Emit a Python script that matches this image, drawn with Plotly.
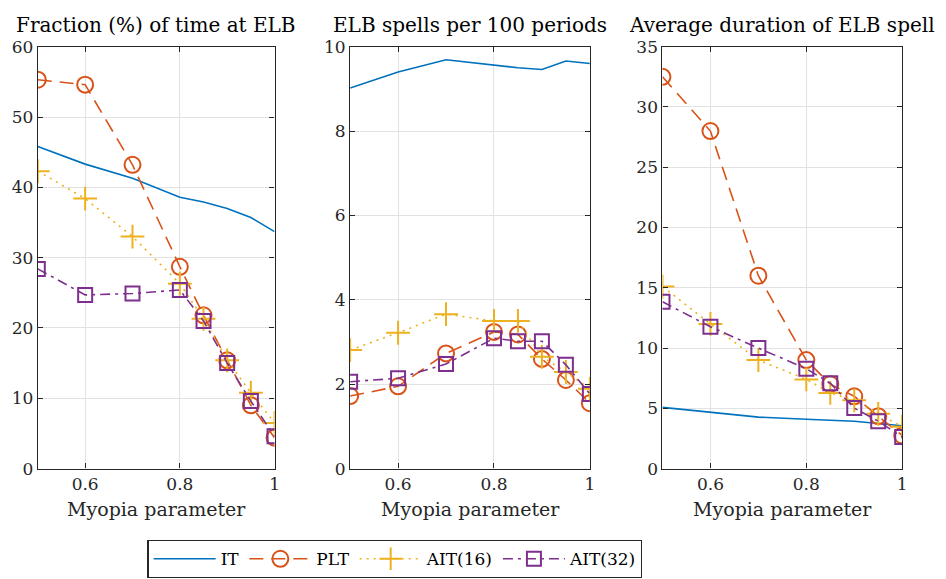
import plotly.graph_objects as go

# Myopia parameter grid
myopia = [0.5, 0.6, 0.7, 0.8, 0.85, 0.9, 0.95, 1.0]

# Fraction (%) of time at ELB
frac_it = [45.8, 43.3, 41.3, 38.6, 37.9, 37.0, 35.7, 33.7]
frac_plt = [55.3, 54.6, 43.2, 28.7, 21.8, 15.4, 9.0, 4.4]
frac_ait16 = [42.3, 38.4, 33.0, 26.3, 21.3, 15.4, 10.8, 6.5]
frac_ait32 = [28.4, 24.7, 24.9, 25.4, 21.0, 15.0, 9.6, 4.6]

# ELB spells per 100 periods
spells_it = [9.02, 9.40, 9.69, 9.56, 9.50, 9.46, 9.66, 9.60]
spells_plt = [1.72, 1.95, 2.73, 3.24, 3.18, 2.60, 2.10, 1.55]
spells_ait16 = [2.81, 3.22, 3.66, 3.50, 3.50, 2.65, 2.29, 1.89]
spells_ait32 = [2.06, 2.14, 2.48, 3.09, 3.02, 3.02, 2.46, 1.77]

# Average duration of ELB spell
dur_it = [5.08, 4.68, 4.27, 4.09, 4.00, 3.93, 3.74, 3.55]
dur_plt = [32.5, 28.0, 16.0, 9.0, 7.0, 6.0, 4.35, 2.75]
dur_ait16 = [15.1, 12.0, 9.0, 7.4, 6.28, 5.66, 4.54, 3.47]
dur_ait32 = [13.84, 11.76, 10.0, 8.28, 7.08, 5.02, 3.93, 2.62]

panel_titles = ["Fraction (%) of time at ELB", "ELB spells per 100 periods",
                "Average duration of ELB spell"]
y_ranges = [[0, 60], [0, 10], [0, 35]]
y_dticks = [10, 2, 5]
x_title = "Myopia parameter"

series_names = ["IT", "PLT", "AIT(16)", "AIT(32)"]
colors = ["#0072BD", "#D95319", "#EDB120", "#7E2F8E"]
dashes = ["solid", "14px,8px", "2px,5px", "10px,5px,3px,5px"]
symbols = [None, "circle-open", "cross-thin-open", "square-open"]
marker_sizes = [0, 16, 17, 14]

panels = [
    [frac_it, frac_plt, frac_ait16, frac_ait32],
    [spells_it, spells_plt, spells_ait16, spells_ait32],
    [dur_it, dur_plt, dur_ait16, dur_ait32],
]

W, H = 946, 579
x_domains_px = [(38, 276), (352, 593), (666, 907)]
y_dom = [1 - 475 / H, 1 - 38 / H]

FONT = "DejaVu Serif, serif"
INK = "#262626"

fig = go.Figure()

for p, series in enumerate(panels):
    ax = "" if p == 0 else str(p + 1)
    for s, vals in enumerate(series):
        mode = "lines" if symbols[s] is None else "lines+markers"
        marker = dict()
        if symbols[s] is not None:
            marker = dict(symbol=symbols[s], size=marker_sizes[s], color=colors[s],
                          line=dict(width=2, color=colors[s]))
        fig.add_trace(go.Scatter(
            x=myopia, y=vals, mode=mode, name=series_names[s],
            line=dict(color=colors[s], width=1.6, dash=dashes[s]),
            marker=marker, showlegend=(p == 0),
            xaxis="x" + ax, yaxis="y" + ax,
        ))

layout = dict(
    width=W, height=H,
    margin=dict(l=0, r=0, t=0, b=0),
    paper_bgcolor="white", plot_bgcolor="white",
    font=dict(family=FONT, size=17, color=INK),
    showlegend=True,
    legend=dict(orientation="h", x=0.4197, xanchor="center", y=1 - 549 / H, yanchor="top",
                bordercolor=INK, borderwidth=1.2, font=dict(size=17, color="black"),
                itemwidth=62, tracegroupgap=0, bgcolor="white"),
)

annotations = []
for p in range(3):
    ax = "" if p == 0 else str(p + 1)
    x0, x1 = x_domains_px[p]
    layout["xaxis" + ax] = dict(
        domain=[x0 / W, x1 / W], range=[0.5, 1.0], tickvals=[0.6, 0.8, 1.0],
        ticktext=["0.6", "0.8", "1"], anchor="y" + ax,
        showline=True, linecolor=INK, linewidth=1.2, mirror="ticks",
        ticks="inside", ticklen=5, tickcolor=INK,
        showgrid=True, gridcolor="#e2e2e2", gridwidth=1, zeroline=False,
        tickfont=dict(size=17, color=INK, family=FONT),
    )
    layout["yaxis" + ax] = dict(
        domain=y_dom, range=y_ranges[p], dtick=y_dticks[p], anchor="x" + ax,
        showline=True, linecolor=INK, linewidth=1.2, mirror="ticks",
        ticks="inside", ticklen=5, tickcolor=INK,
        showgrid=True, gridcolor="#e2e2e2", gridwidth=1, zeroline=False,
        tickfont=dict(size=17, color=INK, family=FONT),
    )
    cx = (x0 + x1) / 2 / W
    annotations.append(dict(text=panel_titles[p], x=cx, y=1 - 16 / H, xref="paper", yref="paper",
                            xanchor="center", yanchor="middle", showarrow=False,
                            font=dict(size=20, color="black", family=FONT)))
    annotations.append(dict(text=x_title, x=cx, y=1 - 517 / H, xref="paper", yref="paper",
                            xanchor="center", yanchor="middle", showarrow=False,
                            font=dict(size=19, color=INK, family=FONT)))
layout["annotations"] = annotations

fig.update_layout(**layout)
fig.write_html("out.html")
